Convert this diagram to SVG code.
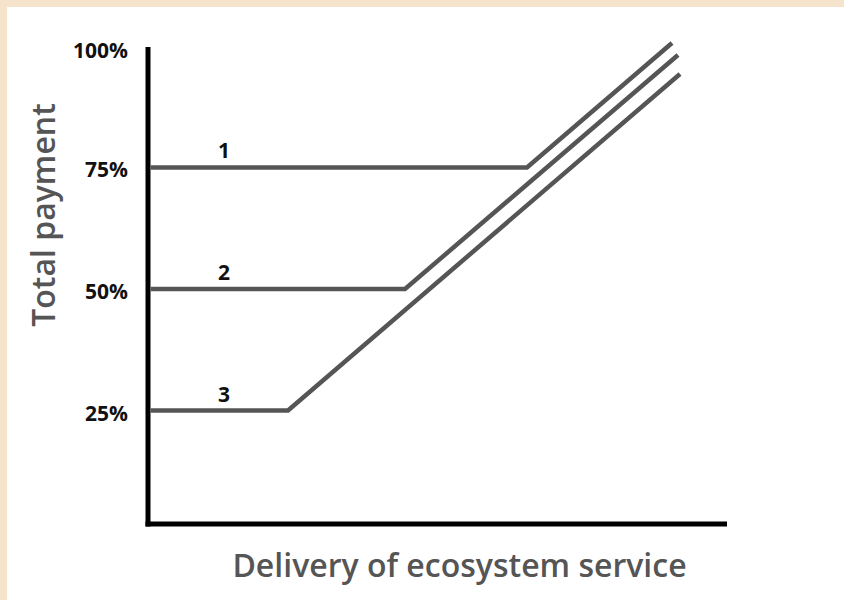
<svg xmlns="http://www.w3.org/2000/svg" width="844" height="600" viewBox="0 0 844 600">
  <style>
    .axis { stroke: #000; stroke-width: 5; fill: none; }
    .series { stroke: #555; stroke-width: 4.5; fill: none; stroke-linejoin: miter; stroke-linecap: butt; }
    .tick { font-family: "Open Sans", "Noto Sans", sans-serif; font-weight: 700; font-size: 21px; fill: #111; text-anchor: end; }
    .num { font-family: "Open Sans", "Noto Sans", sans-serif; font-weight: 700; font-size: 21px; fill: #111; text-anchor: middle; }
    .title { font-family: "Open Sans", "Noto Sans", sans-serif; font-weight: 600; font-size: 32px; fill: #555; text-anchor: middle; }
  </style>
  <rect x="0" y="0" width="844" height="600" fill="#f5e4cb"/>
  <rect x="7" y="7" width="837" height="593" fill="#ffffff"/>

  <g id="axes">
    <line class="axis" x1="148" y1="47" x2="148" y2="526.5"/>
    <line class="axis" x1="145.5" y1="524" x2="727" y2="524"/>
  </g>

  <g id="connectors">
    <path id="series-1" class="series" d="M150.5,167.5 H527 L672,43"/>
    <path id="series-2" class="series" d="M150.5,289 H405 L678,55"/>
    <path id="series-3" class="series" d="M150.5,410.5 H288 L680,74"/>
  </g>

  <g id="tick-labels">
    <text class="tick" x="128" y="58">100%</text>
    <text class="tick" x="128" y="177">75%</text>
    <text class="tick" x="128" y="299">50%</text>
    <text class="tick" x="128" y="421">25%</text>
  </g>

  <g id="label-1"><text class="num" x="224" y="158">1</text></g>
  <g id="label-2"><text class="num" x="224" y="280">2</text></g>
  <g id="label-3"><text class="num" x="224" y="402">3</text></g>

  <g id="y-title">
    <text class="title" x="55" y="215" transform="rotate(-90 55 215)">Total payment</text>
  </g>
  <g id="x-title">
    <text class="title" x="459.5" y="577">Delivery of ecosystem service</text>
  </g>
</svg>
